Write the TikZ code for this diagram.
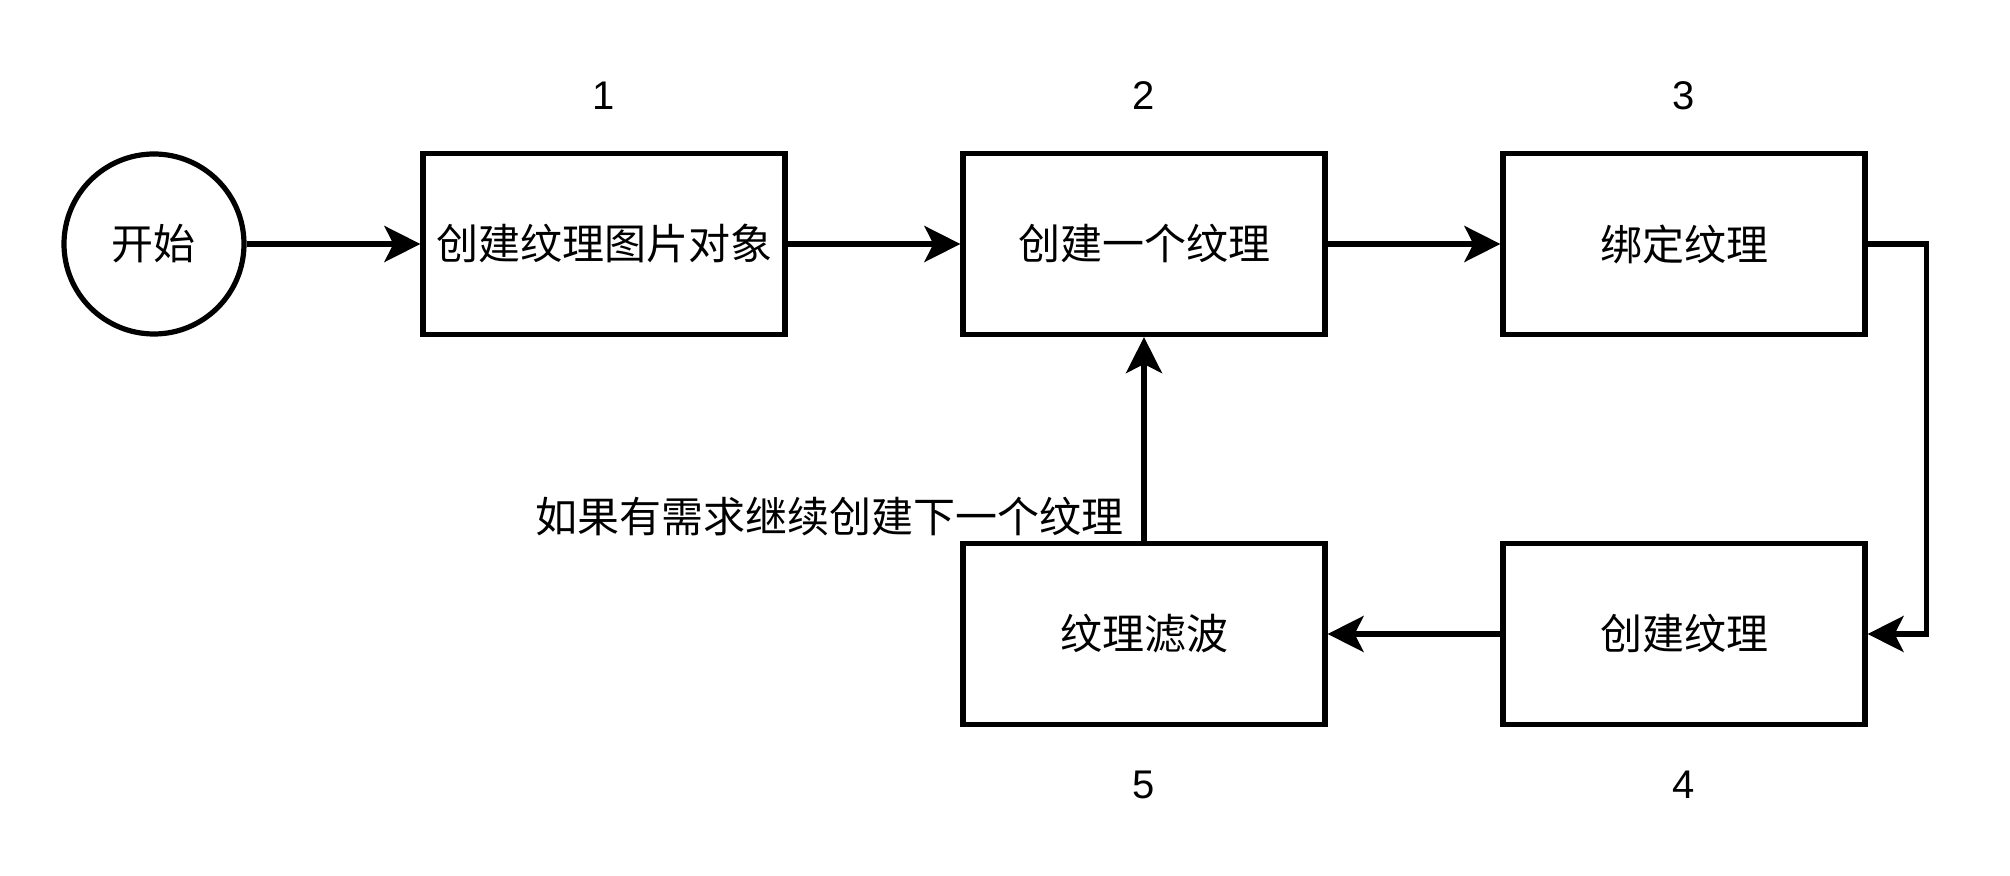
\documentclass[tikz,border=0pt]{standalone}
\usepackage{fontspec}
\setmainfont{Liberation Sans}
\newfontfamily\cjk{Noto Sans CJK SC}
\usetikzlibrary{arrows.meta,positioning}
\tikzset{
  box/.style={draw, line width=2.6pt, minimum width=181pt, minimum height=90.5pt,
              inner sep=0pt, font=\cjk\fontsize{21}{25}\selectfont},
  num/.style={font=\fontsize{20}{24}\selectfont},
  flow/.style={-{Stealth[length=18pt,width=18pt,inset=4.5pt]}, line width=2.6pt},
}

\begin{document}
\begin{tikzpicture}[x=0.5pt, y=-0.5pt]
  \useasboundingbox (0,0) rectangle (2010,876);
  % Start
  \node[circle, draw, line width=2.6pt, minimum size=90pt, inner sep=0pt,
        font=\cjk\fontsize{21}{25}\selectfont] (start) at (154,244) {开始};
  % Steps
  \node[box] (tex1) at (604,244) {创建纹理图片对象};
  \node[box] (tex2) at (1144,244) {创建一个纹理};
  \node[box] (tex3) at (1684,244) {绑定纹理};
  \node[box] (tex4) at (1684,634) {创建纹理};
  \node[box] (tex5) at (1144,634) {纹理滤波};
  % Step numbers
  \node[num] (n1) at (604,96) {1};
  \node[num] (n2) at (1144,96) {2};
  \node[num] (n3) at (1684,96) {3};
  \node[num] (n4) at (1684,785) {4};
  \node[num] (n5) at (1144,785) {5};
  % Flow
  \draw[flow] (start) -- (tex1);
  \draw[flow] (tex1) -- (tex2);
  \draw[flow] (tex2) -- (tex3);
  \draw[flow] (tex3.east) -- ++(59,0) |- (tex4.east);
  \draw[flow] (tex4) -- (tex5);
  \draw[flow] (tex5) -- (tex2);
  % Loop label
  \node[anchor=east, inner sep=0pt, font=\cjk\fontsize{21}{25}\selectfont]
    (loop) at (1124,517) {如果有需求继续创建下一个纹理};
\end{tikzpicture}
\end{document}
